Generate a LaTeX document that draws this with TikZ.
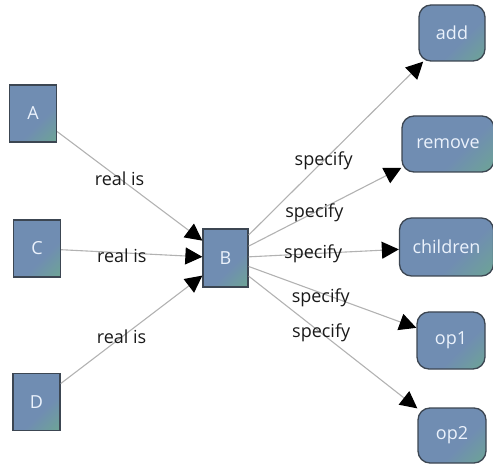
\documentclass[tikz,border=0pt]{standalone}
\usepackage{fontspec}
\setmainfont{Open Sans}
\usetikzlibrary{arrows.meta}
\definecolor{boxblue}{RGB}{112,141,178}
\definecolor{boxgreen}{RGB}{108,178,132}
\definecolor{boxline}{RGB}{60,70,82}
\definecolor{edgegray}{RGB}{178,178,178}
\definecolor{boxtext}{RGB}{235,242,252}
\pgfdeclarehorizontalshading{boxshade}{100bp}{color(0bp)=(boxblue); color(60bp)=(boxblue); color(100bp)=(boxgreen)}
\tikzset{
  sq/.style={draw=boxline, line width=1.3pt, shading=boxshade, shading angle=-45,
    minimum width=47pt, minimum height=57pt, inner sep=0pt, text=boxtext, font=\fontsize{18}{21}\selectfont},
  rbox/.style={sq, rounded corners=12pt},
  rel/.style={draw=edgegray, line width=1.1pt, -{Triangle[length=17pt,width=17pt,black]}},
  lab/.style={pos=0.43, text=black!90, font=\fontsize{18}{21}\selectfont, inner sep=0pt}
}
\begin{document}
\begin{tikzpicture}[x=1pt,y=-1pt]
\useasboundingbox (0,0) rectangle (493,465);
\node[sq] (A) at (33,113.5) {A};
\node[sq] (C) at (37,248.5) {C};
\node[sq] (D) at (36.5,402) {D};
\node[sq, minimum width=45pt, minimum height=58pt] (B) at (225.5,258) {B};
\node[rbox, minimum width=66pt, minimum height=56pt] (add) at (452,33) {add};
\node[rbox, minimum width=92pt, minimum height=56pt] (remove) at (448,144) {remove};
\node[rbox, minimum width=94pt, minimum height=58pt] (children) at (446.5,247) {children};
\node[rbox, minimum width=68pt, minimum height=57pt] (op1) at (451,340.5) {op1};
\node[rbox, minimum width=68pt, minimum height=55pt] (op2) at (452,435.5) {op2};
\draw[rel] (A) -- node[lab] {real is} (B);
\draw[rel] (C) -- node[lab, yshift=-3pt] {real is} (B);
\draw[rel] (D) -- node[lab] {real is} (B);
\draw[rel] (B) -- node[lab] {specify} (add);
\draw[rel] (B) -- node[lab] {specify} (remove);
\draw[rel] (B) -- node[lab] {specify} (children);
\draw[rel] (B) -- node[lab, yshift=-5pt] {specify} (op1);
\draw[rel] (B) -- node[lab] {specify} (op2);
\end{tikzpicture}
\end{document}
